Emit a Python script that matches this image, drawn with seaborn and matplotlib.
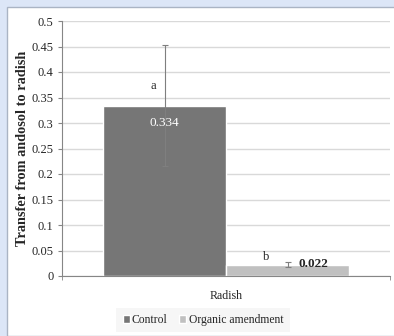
import pandas as pd
import matplotlib.pyplot as plt
import matplotlib.patches as mpatches
import seaborn as sns

# data
crop = ["Radish"]
treatments = ["Control", "Organic amendment"]
transfer = [0.334, 0.022]
errors = [0.119, 0.005]
letters = ["a", "b"]
value_labels = ["0.334", "0.022"]
colors = ["#767676", "#c0c0c0"]

df = pd.DataFrame({
    "crop": crop * len(treatments),
    "treatment": treatments,
    "transfer": transfer,
})

sns.set_style("white")
plt.rcParams["font.family"] = ["Liberation Serif", "DejaVu Serif"]

fig = plt.figure(figsize=(3.94, 3.36), dpi=100)
fig.patch.set_facecolor("#dce6f7")
# white panel behind the chart
panel = mpatches.Rectangle((7 / 394, 0), 1, 1 - 7 / 336, transform=fig.transFigure,
                           facecolor="white", edgecolor="#aab4c4", linewidth=1, zorder=-5)
fig.patches.append(panel)

ax = fig.add_axes([62 / 394, 1 - 276 / 336, 328 / 394, 255 / 336])
ax.set_facecolor("none")

sns.barplot(data=df, x="crop", y="transfer", hue="treatment", palette=colors,
            width=0.75, gap=0, errorbar=None, ax=ax, legend=True, zorder=2)
ax.set_xlim(-0.5, 0.5)

# error bars at the bar centres
bars = [p for p in ax.patches if p.get_height() > 0]
for bar, val, err in zip(bars, transfer, errors):
    xc = bar.get_x() + bar.get_width() / 2
    ax.errorbar(xc, val, yerr=err, fmt="none", ecolor="#7f7f7f", elinewidth=0.8,
                capsize=2, capthick=0.8, zorder=3)

xc0 = bars[0].get_x() + bars[0].get_width() / 2
xc1 = bars[1].get_x() + bars[1].get_width() / 2
ax.text(xc0 - 0.034, 0.372, letters[0], ha="center", va="center", fontsize=9)
ax.text(xc0, 0.30, value_labels[0], ha="center", va="center", fontsize=9.5, color="white")
ax.text(xc1 - 0.066, 0.037, letters[1], ha="center", va="center", fontsize=9)
ax.text(xc1 + 0.078, 0.024, value_labels[1], ha="center", va="center", fontsize=9.5,
        fontweight="bold")

ax.set_ylim(0, 0.5)
ax.set_yticks([0, 0.05, 0.1, 0.15, 0.2, 0.25, 0.3, 0.35, 0.4, 0.45, 0.5])
ax.set_yticklabels(["0", "0.05", "0.1", "0.15", "0.2", "0.25", "0.3", "0.35", "0.4", "0.45", "0.5"])
ax.yaxis.grid(True, color="#d9d9d9", linewidth=1)
ax.set_axisbelow(True)
ax.tick_params(axis="y", labelsize=9, length=3, color="#868686", pad=3, left=True)
ax.tick_params(axis="x", which="major", labelsize=8.6, length=0, pad=10)
ax.set_xticks([-0.5, 0.5], minor=True)
ax.tick_params(axis="x", which="minor", bottom=True, length=3, color="#868686")
ax.set_xlabel("")
ax.set_ylabel("Transfer from andosol to radish", fontsize=10.3, fontweight="bold")
ax.yaxis.set_label_coords(-0.10, 0.5)

for side in ["top", "right"]:
    ax.spines[side].set_visible(False)
for side in ["left", "bottom"]:
    ax.spines[side].set_color("#868686")
    ax.spines[side].set_linewidth(0.8)

leg = ax.legend(loc="center", bbox_to_anchor=(203 / 394, 1 - 320 / 336),
                bbox_transform=fig.transFigure, ncol=2, frameon=True, fontsize=8.4,
                handlelength=0.6, handleheight=0.6, handletextpad=0.2,
                columnspacing=1.0, borderpad=0.55, fancybox=False)
leg.get_frame().set_facecolor("#f4f4f4")
leg.get_frame().set_edgecolor("none")

fig.savefig("out.png", dpi=100, facecolor=fig.get_facecolor())
